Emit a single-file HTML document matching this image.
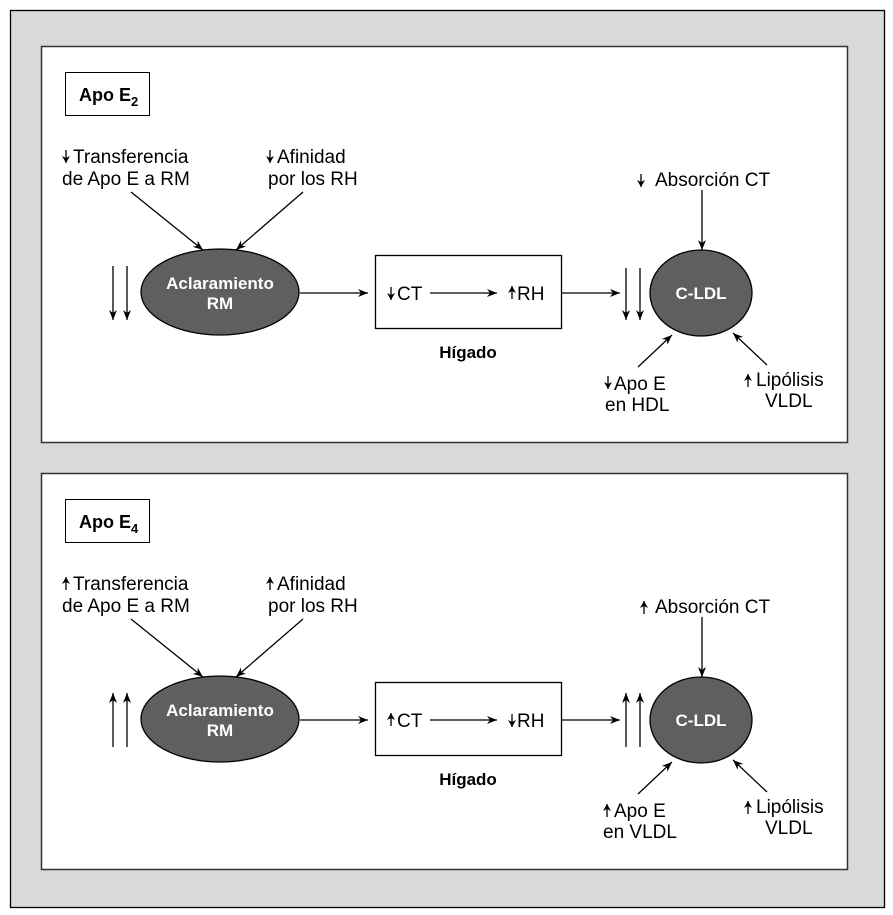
<!DOCTYPE html>
<html><head><meta charset="utf-8"><style>
html,body{margin:0;padding:0;background:#fff;}
svg{display:block;}
text{font-family:"Liberation Sans",sans-serif;}
</style></head><body>
<svg width="893" height="915" viewBox="0 0 893 915" xmlns="http://www.w3.org/2000/svg">
<defs>
<marker id="a" markerWidth="10" markerHeight="8" refX="10" refY="4" orient="auto" markerUnits="userSpaceOnUse">
<path d="M0,0 L10,4 L0,8 L3,4 Z" fill="#000"/></marker>
<marker id="s" markerWidth="7" markerHeight="8" refX="7" refY="4" orient="auto" markerUnits="userSpaceOnUse">
<path d="M0,0 L7,4 L0,8 L2,4 Z" fill="#000"/></marker>
<g id="dn"><line x1="0" y1="-13" x2="0" y2="0" stroke="#000" stroke-width="1.3" marker-end="url(#s)"/></g>
<g id="up"><line x1="0" y1="13" x2="0" y2="0" stroke="#000" stroke-width="1.3" marker-end="url(#s)"/></g>
</defs>
<rect x="10.5" y="10.5" width="874" height="897" fill="#d9d9d9" stroke="#000" stroke-width="1.3"/>

<!-- Panel 1 -->
<g>
<rect x="41.5" y="46.5" width="806" height="396" fill="#fff" stroke="#333" stroke-width="1.5"/>
<rect x="65.5" y="72.5" width="84" height="43" fill="#fff" stroke="#000"/>
<text x="79" y="101" font-size="18" font-weight="bold">Apo E<tspan font-size="13" dy="5">2</tspan></text>
<use href="#dn" x="66" y="163"/>
<text x="73" y="163" font-size="19">Transferencia</text>
<text x="62" y="185" font-size="19">de Apo E a RM</text>
<use href="#dn" x="270" y="163"/>
<text x="277" y="163" font-size="19">Afinidad</text>
<text x="268" y="185" font-size="19">por los RH</text>
<line x1="131" y1="192" x2="203" y2="250" stroke="#000" stroke-width="1.3" marker-end="url(#a)"/>
<line x1="303" y1="192" x2="236" y2="250" stroke="#000" stroke-width="1.3" marker-end="url(#a)"/>
<line x1="113" y1="266" x2="113" y2="320" stroke="#000" stroke-width="1.3" marker-end="url(#a)"/>
<line x1="127" y1="266" x2="127" y2="320" stroke="#000" stroke-width="1.3" marker-end="url(#a)"/>
<ellipse cx="220" cy="292" rx="79" ry="43" fill="#5f5f5f" stroke="#000" stroke-width="1.3"/>
<text x="220" y="289" font-size="17" font-weight="bold" fill="#fff" text-anchor="middle">Aclaramiento</text>
<text x="220" y="309" font-size="17" font-weight="bold" fill="#fff" text-anchor="middle">RM</text>
<line x1="300" y1="293" x2="368" y2="293" stroke="#000" stroke-width="1.3" marker-end="url(#a)"/>
<rect x="375.5" y="255.5" width="186" height="73" fill="#fff" stroke="#000" stroke-width="1.3"/>
<use href="#dn" x="391" y="300"/>
<text x="397" y="300" font-size="19">CT</text>
<line x1="430" y1="293" x2="497" y2="293" stroke="#000" stroke-width="1.3" marker-end="url(#a)"/>
<use href="#up" x="512" y="286"/>
<text x="517" y="300" font-size="19">RH</text>
<text x="468" y="358" font-size="17" font-weight="bold" text-anchor="middle">Hígado</text>
<line x1="562" y1="293" x2="620" y2="293" stroke="#000" stroke-width="1.3" marker-end="url(#a)"/>
<line x1="626" y1="268" x2="626" y2="320" stroke="#000" stroke-width="1.3" marker-end="url(#a)"/>
<line x1="640" y1="268" x2="640" y2="320" stroke="#000" stroke-width="1.3" marker-end="url(#a)"/>
<ellipse cx="701" cy="293" rx="51" ry="43" fill="#5f5f5f" stroke="#000" stroke-width="1.3"/>
<text x="701" y="299" font-size="17" font-weight="bold" fill="#fff" text-anchor="middle">C-LDL</text>
<use href="#dn" x="641" y="187"/>
<text x="655" y="186" font-size="19">Absorción CT</text>
<line x1="702" y1="190" x2="702" y2="250" stroke="#000" stroke-width="1.3" marker-end="url(#a)"/>
<line x1="638" y1="367" x2="672" y2="335" stroke="#000" stroke-width="1.3" marker-end="url(#a)"/>
<use href="#dn" x="608" y="389"/>
<text x="614" y="390" font-size="19">Apo E</text>
<text x="605" y="411" font-size="19">en HDL</text>
<line x1="767" y1="365" x2="733" y2="333" stroke="#000" stroke-width="1.3" marker-end="url(#a)"/>
<use href="#up" x="748" y="374"/>
<text x="756" y="386" font-size="19">Lipólisis</text>
<text x="765" y="407" font-size="19">VLDL</text>
</g>

<!-- Panel 2 -->
<g transform="translate(0,427)">
<rect x="41.5" y="46.5" width="806" height="396" fill="#fff" stroke="#333" stroke-width="1.5"/>
<rect x="65.5" y="72.5" width="84" height="43" fill="#fff" stroke="#000"/>
<text x="79" y="101" font-size="18" font-weight="bold">Apo E<tspan font-size="13" dy="5">4</tspan></text>
<use href="#up" x="66" y="150"/>
<text x="73" y="163" font-size="19">Transferencia</text>
<text x="62" y="185" font-size="19">de Apo E a RM</text>
<use href="#up" x="270" y="150"/>
<text x="277" y="163" font-size="19">Afinidad</text>
<text x="268" y="185" font-size="19">por los RH</text>
<line x1="131" y1="192" x2="203" y2="250" stroke="#000" stroke-width="1.3" marker-end="url(#a)"/>
<line x1="303" y1="192" x2="236" y2="250" stroke="#000" stroke-width="1.3" marker-end="url(#a)"/>
<line x1="113" y1="320" x2="113" y2="266" stroke="#000" stroke-width="1.3" marker-end="url(#a)"/>
<line x1="127" y1="320" x2="127" y2="266" stroke="#000" stroke-width="1.3" marker-end="url(#a)"/>
<ellipse cx="220" cy="292" rx="79" ry="43" fill="#5f5f5f" stroke="#000" stroke-width="1.3"/>
<text x="220" y="289" font-size="17" font-weight="bold" fill="#fff" text-anchor="middle">Aclaramiento</text>
<text x="220" y="309" font-size="17" font-weight="bold" fill="#fff" text-anchor="middle">RM</text>
<line x1="300" y1="293" x2="368" y2="293" stroke="#000" stroke-width="1.3" marker-end="url(#a)"/>
<rect x="375.5" y="255.5" width="186" height="73" fill="#fff" stroke="#000" stroke-width="1.3"/>
<use href="#up" x="391" y="286"/>
<text x="397" y="300" font-size="19">CT</text>
<line x1="430" y1="293" x2="497" y2="293" stroke="#000" stroke-width="1.3" marker-end="url(#a)"/>
<use href="#dn" x="512" y="300"/>
<text x="517" y="300" font-size="19">RH</text>
<text x="468" y="358" font-size="17" font-weight="bold" text-anchor="middle">Hígado</text>
<line x1="562" y1="293" x2="620" y2="293" stroke="#000" stroke-width="1.3" marker-end="url(#a)"/>
<line x1="626" y1="320" x2="626" y2="266" stroke="#000" stroke-width="1.3" marker-end="url(#a)"/>
<line x1="640" y1="320" x2="640" y2="266" stroke="#000" stroke-width="1.3" marker-end="url(#a)"/>
<ellipse cx="701" cy="293" rx="51" ry="43" fill="#5f5f5f" stroke="#000" stroke-width="1.3"/>
<text x="701" y="299" font-size="17" font-weight="bold" fill="#fff" text-anchor="middle">C-LDL</text>
<use href="#up" x="644" y="174"/>
<text x="655" y="186" font-size="19">Absorción CT</text>
<line x1="702" y1="190" x2="702" y2="250" stroke="#000" stroke-width="1.3" marker-end="url(#a)"/>
<line x1="638" y1="367" x2="672" y2="335" stroke="#000" stroke-width="1.3" marker-end="url(#a)"/>
<use href="#up" x="607" y="377"/>
<text x="614" y="390" font-size="19">Apo E</text>
<text x="603" y="411" font-size="19">en VLDL</text>
<line x1="767" y1="365" x2="733" y2="333" stroke="#000" stroke-width="1.3" marker-end="url(#a)"/>
<use href="#up" x="748" y="374"/>
<text x="756" y="386" font-size="19">Lipólisis</text>
<text x="765" y="407" font-size="19">VLDL</text>
</g>
</svg>
</body></html>
